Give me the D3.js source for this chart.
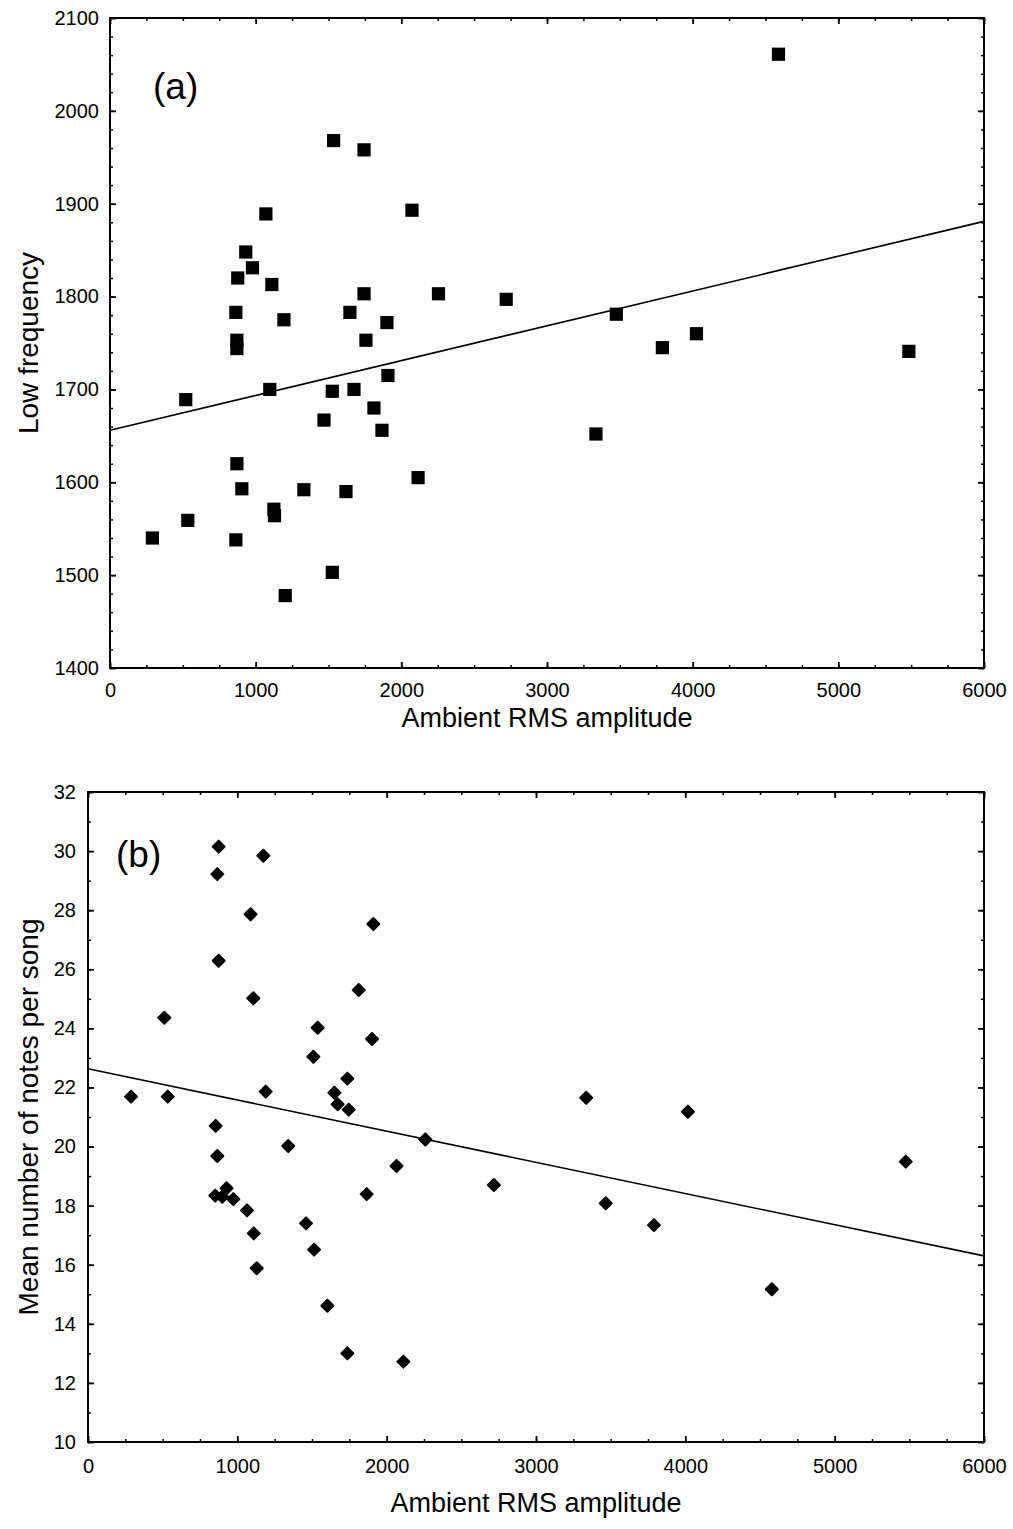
<!DOCTYPE html>
<html>
<head>
<meta charset="utf-8">
<script src="https://cdn.jsdelivr.net/npm/d3@7"></script>
<style>
  body { margin: 0; background: #fff; }
  svg { display: block; font-family: "Liberation Sans", Arial, sans-serif; }
</style>
</head>
<body>
<svg id="chart" width="1013" height="1529"></svg>
<script>
// panel (a): ambient noise vs low frequency
const ambientA = [291, 520, 534, 864, 871, 864, 871, 871, 877, 905, 932, 978, 1070, 1097, 1111,
  1125, 1129, 1194, 1203, 1331, 1469, 1526, 1526, 1535, 1620, 1647, 1675, 1744, 1744, 1757,
  1812, 1867, 1901, 1908, 2073, 2115, 2255, 2720, 3336, 3476, 3792, 4026, 4589, 5484];
const lowFreq = [1540, 1689, 1559, 1538, 1620, 1783, 1753, 1744, 1820, 1593, 1848, 1831, 1889, 1700, 1813,
  1571, 1564, 1775, 1478, 1592, 1667, 1698, 1503, 1968, 1590, 1783, 1700, 1958, 1803, 1753,
  1680, 1656, 1772, 1715, 1893, 1605, 1803, 1797, 1652, 1781, 1745, 1760, 2061, 1741];
const fitXA = [0, 6000];
const fitYA = [1656, 1881];

// panel (b): ambient noise vs notes per song
const ambientB = [288, 511, 534, 852, 855, 866, 866, 875, 875, 899, 928, 973, 1065, 1089, 1107,
  1110, 1130, 1174, 1190, 1341, 1460, 1509, 1514, 1538, 1603, 1650, 1672, 1737, 1737, 1746,
  1813, 1866, 1902, 1911, 2066, 2112, 2259, 2718, 3336, 3467, 3790, 4017, 4579, 5476];
const notesPerSong = [21.69, 24.36, 21.69, 18.34, 20.70, 19.68, 29.22, 30.15, 26.29, 18.30, 18.59, 18.22, 17.84, 27.86, 25.02,
  17.06, 15.88, 29.84, 21.86, 20.02, 17.40, 23.04, 16.51, 24.02, 14.61, 21.82, 21.43, 22.30, 13.00, 21.25,
  25.30, 18.39, 23.64, 27.53, 19.34, 12.72, 20.24, 18.70, 21.65, 18.08, 17.34, 21.18, 15.17, 19.49];
const fitXB = [0, 6000];
const fitYB = [22.63, 16.30];

const xTicks = [0, 1000, 2000, 3000, 4000, 5000, 6000];
const yTicksA = [1400, 1500, 1600, 1700, 1800, 1900, 2000, 2100];
const yTicksB = [10, 12, 14, 16, 18, 20, 22, 24, 26, 28, 30, 32];

const svg = d3.select("#chart");

function drawPanel(cfg) {
  const x = d3.scaleLinear().domain([0, 6000]).range([cfg.left, cfg.right]);
  const y = d3.scaleLinear().domain([cfg.yTicks[0], cfg.yTicks[cfg.yTicks.length - 1]])
    .range([cfg.bottom, cfg.top]);

  const g = svg.append("g");
  const xMinor = d3.range(0, 6001, 250);
  const yMinor = d3.range(y.domain()[0], y.domain()[1] + 1e-6, cfg.yMinorStep);

  const sides = [
    { axis: d3.axisBottom, scale: x, t: `translate(0,${cfg.bottom})`, major: cfg.xTicks, minor: xMinor, labels: true, pad: cfg.xPad },
    { axis: d3.axisTop, scale: x, t: `translate(0,${cfg.top})`, major: cfg.xTicks, minor: xMinor, labels: false },
    { axis: d3.axisLeft, scale: y, t: `translate(${cfg.left},0)`, major: cfg.yTicks, minor: yMinor, labels: true, pad: cfg.yPad },
    { axis: d3.axisRight, scale: y, t: `translate(${cfg.right},0)`, major: cfg.yTicks, minor: yMinor, labels: false }
  ];

  sides.forEach(s => {
    g.append("g").attr("transform", s.t)
      .call(s.axis(s.scale).tickValues(s.minor).tickSize(-3).tickFormat(""))
      .call(a => a.select(".domain").remove())
      .selectAll("line").attr("stroke-width", 1.5);
    const ax = g.append("g").attr("transform", s.t)
      .call(s.axis(s.scale).tickValues(s.major).tickSize(-6).tickPadding(s.pad || 0)
        .tickFormat(s.labels ? d3.format("d") : ""));
    ax.select(".domain").remove();
    ax.selectAll("line").attr("stroke-width", 1.8);
    ax.selectAll("text").attr("font-size", 20).attr("fill", "#000")
      .attr("font-family", "Liberation Sans, Arial, sans-serif");
  });

  g.append("rect")
    .attr("x", cfg.left).attr("y", cfg.top)
    .attr("width", cfg.right - cfg.left).attr("height", cfg.bottom - cfg.top)
    .attr("fill", "none").attr("stroke", "#000").attr("stroke-width", 2);

  // regression line
  const line = d3.line().x(d => x(d[0])).y(d => y(d[1]));
  g.append("path")
    .datum(d3.zip(cfg.fitX, cfg.fitY))
    .attr("d", line)
    .attr("fill", "none").attr("stroke", "#000").attr("stroke-width", 1.6);

  const pts = d3.zip(cfg.xs, cfg.ys);
  if (cfg.marker === "square") {
    g.selectAll("rect.pt").data(pts).enter().append("rect")
      .attr("class", "pt")
      .attr("x", d => x(d[0]) - 6.6).attr("y", d => y(d[1]) - 6.6)
      .attr("width", 13.2).attr("height", 13.2)
      .attr("fill", "#000");
  } else {
    g.selectAll("path.pt").data(pts).enter().append("path")
      .attr("class", "pt")
      .attr("d", d3.symbol(d3.symbolSquare, 72)())
      .attr("transform", d => `translate(${x(d[0])},${y(d[1])}) rotate(45)`)
      .attr("fill", "#000").attr("stroke", "#000")
      .attr("stroke-width", 2).attr("stroke-linejoin", "round");
  }

  // titles
  g.append("text")
    .attr("x", (cfg.left + cfg.right) / 2).attr("y", cfg.xTitleY)
    .attr("text-anchor", "middle").attr("font-size", 27)
    .text("Ambient RMS amplitude");
  g.append("text")
    .attr("transform", `translate(${cfg.yTitleX},${(cfg.top + cfg.bottom) / 2}) rotate(-90)`)
    .attr("text-anchor", "middle").attr("font-size", 28)
    .text(cfg.yTitle);
  g.append("text")
    .attr("x", cfg.tagX).attr("y", cfg.tagY)
    .attr("font-size", 37)
    .text(cfg.tag);
}

drawPanel({
  left: 110, right: 984, top: 18, bottom: 668,
  yTicks: yTicksA, yMinorStep: 20, xTicks: xTicks,
  xPad: 15, yPad: 11,
  xs: ambientA, ys: lowFreq, fitX: fitXA, fitY: fitYA, marker: "square",
  yTitle: "Low frequency", yTitleX: 38,
  xTitleY: 727,
  tag: "(a)", tagX: 153, tagY: 99
});

drawPanel({
  left: 88, right: 984, top: 792, bottom: 1442,
  yTicks: yTicksB, yMinorStep: 1, xTicks: xTicks,
  xPad: 17, yPad: 12,
  xs: ambientB, ys: notesPerSong, fitX: fitXB, fitY: fitYB, marker: "diamond",
  yTitle: "Mean number of notes per song", yTitleX: 38,
  xTitleY: 1512,
  tag: "(b)", tagX: 116, tagY: 867
});
</script>
</body>
</html>
